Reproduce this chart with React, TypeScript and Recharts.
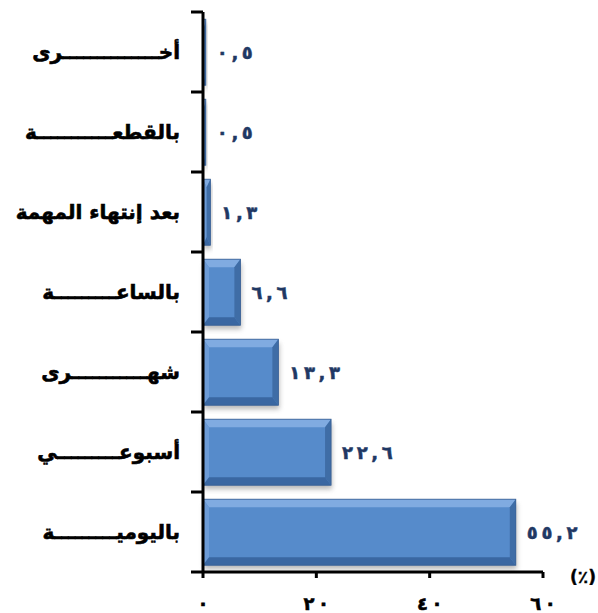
import React from "react";
import { BarChart, Bar, XAxis, YAxis, LabelList, Label } from "recharts";

const categories = [
  "أخــــــــــــــرى",
  "بالقطعـــــــــــة",
  "بعد إنتهاء المهمة",
  "بالساعـــــــــة",
  "شهـــــــــــرى",
  "أسبوعـــــــــي",
  "باليوميـــــــــة",
];
const values = [0.5, 0.5, 1.3, 6.6, 13.3, 22.6, 55.2];
const xTicks = [0, 20, 40, 60];
const axisUnit = "(٪)";

const data = categories.map((name, i) => ({ name, value: values[i] }));

const arabicDigits = "٠١٢٣٤٥٦٧٨٩";
const toArabic = (v: number | string, gap: string) =>
  String(v)
    .replace(/\d/g, (d) => arabicDigits[Number(d)])
    .replace(".", ",")
    .split("")
    .join(gap);

const FONT = "'DejaVu Sans', sans-serif";
const LTR: React.CSSProperties = { direction: "ltr", unicodeBidi: "bidi-override" };

const BevelBar = (props: any) => {
  const { x, y, width, height, index } = props;
  if (!width || width <= 0) return null;
  const w = width;
  const h = height;
  const bs = Math.min(6, w / 2);
  const bt = Math.min(8, h / 2);
  const fid = `sh${index}`;
  return (
    <g>
      <defs>
        <filter id={fid} x="-20%" y="-20%" width="140%" height="160%">
          <feGaussianBlur stdDeviation="2.5" />
        </filter>
      </defs>
      <rect x={x + 1} y={y + 4} width={w} height={h} fill="#7f7f7f" opacity={0.55} filter={`url(#${fid})`} />
      <rect x={x} y={y} width={w} height={h} fill="#568BCB" />
      <polygon points={`${x},${y} ${x + w},${y} ${x + w - bs},${y + bt} ${x + bs},${y + bt}`} fill="#80ABE1" />
      <polygon points={`${x},${y} ${x + bs},${y + bt} ${x + bs},${y + h - bt} ${x},${y + h}`} fill="#6C9BD6" />
      <polygon points={`${x + w},${y} ${x + w},${y + h} ${x + w - bs},${y + h - bt} ${x + w - bs},${y + bt}`} fill="#3F6DA6" />
      <polygon points={`${x},${y + h} ${x + w},${y + h} ${x + w - bs},${y + h - bt} ${x + bs},${y + h - bt}`} fill="#3A67A2" />
      <rect x={x} y={y} width={w} height={h} fill="none" stroke="#375E93" strokeWidth={0.8} />
    </g>
  );
};

const YTick = (props: any) => {
  const x = Number(props.x);
  const y = Number(props.y);
  const { payload, index } = props;
  const half = 40;
  const ax = x + 8;
  return (
    <g>
      <text
        x={ax - 23}
        y={y}
        textAnchor="end"
        dominantBaseline="central"
        fontFamily={FONT}
        fontWeight="bold"
        fontSize={20}
        fill="#000"
        stroke="#000"
        strokeWidth={0.6}
      >
        {payload.value}
      </text>
      <rect x={ax - 12} y={y - half - 1.5} width={12} height={3} fill="#000" />
      {index === categories.length - 1 && (
        <rect x={ax - 12} y={y + half - 1.5} width={12} height={3} fill="#000" />
      )}
    </g>
  );
};

const XTick = (props: any) => {
  const { x, y, payload } = props;
  return (
    <text
      x={x}
      y={y + 23}
      textAnchor="middle"
      dominantBaseline="central"
      fontFamily={FONT}
      fontWeight="bold"
      fontSize={18}
      fill="#000"
      stroke="#000"
      strokeWidth={0.6}
      style={LTR}
    >
      {toArabic(payload.value, "\u2009")}
    </text>
  );
};

const ValueLabel = (props: any) => {
  const { x, y, width, height, value } = props;
  return (
    <text
      x={Number(x) + Number(width) + 11}
      y={Number(y) + Number(height) / 2}
      textAnchor="start"
      dominantBaseline="central"
      fontFamily={FONT}
      fontWeight="bold"
      fontSize={18}
      fill="#1F3864"
      stroke="#1F3864"
      strokeWidth={0.5}
      style={LTR}
    >
      {toArabic(value, "\u2009")}
    </text>
  );
};

const renderUnit = (props: any) => {
  const vb = props.viewBox || {};
  return (
    <text
      x={(vb.x || 0) + (vb.width || 0) + 40}
      y={(vb.y || 0) + 5}
      textAnchor="middle"
      dominantBaseline="central"
      fontFamily={FONT}
      fontWeight="bold"
      fontSize={17}
      fill="#000"
      stroke="#000"
      strokeWidth={0.4}
    >
      {axisUnit}
    </text>
  );
};

export default function App() {
  return (
    <div style={{ position: "absolute", left: 0, top: 0, background: "#fff" }}>
      <BarChart
        width={598}
        height={613}
        data={data}
        layout="vertical"
        margin={{ top: 12, right: 55, bottom: 0, left: 0 }}
        barCategoryGap="9%"
      >
        <XAxis
          type="number"
          domain={[0, 60]}
          ticks={xTicks}
          interval={0}
          height={41}
          axisLine={{ stroke: "#000", strokeWidth: 3 }}
          tickLine={{ stroke: "#000", strokeWidth: 3 }}
          tickSize={6}
          tick={<XTick />}
        >
          <Label content={renderUnit} />
        </XAxis>
        <YAxis
          type="category"
          dataKey="name"
          width={203}
          axisLine={{ stroke: "#000", strokeWidth: 3 }}
          tickLine={false}
          tickSize={6}
          tickMargin={2}
          interval={0}
          tick={<YTick />}
        />
        <Bar dataKey="value" isAnimationActive={false} shape={<BevelBar />}>
          <LabelList dataKey="value" content={<ValueLabel />} />
        </Bar>
      </BarChart>
    </div>
  );
}
